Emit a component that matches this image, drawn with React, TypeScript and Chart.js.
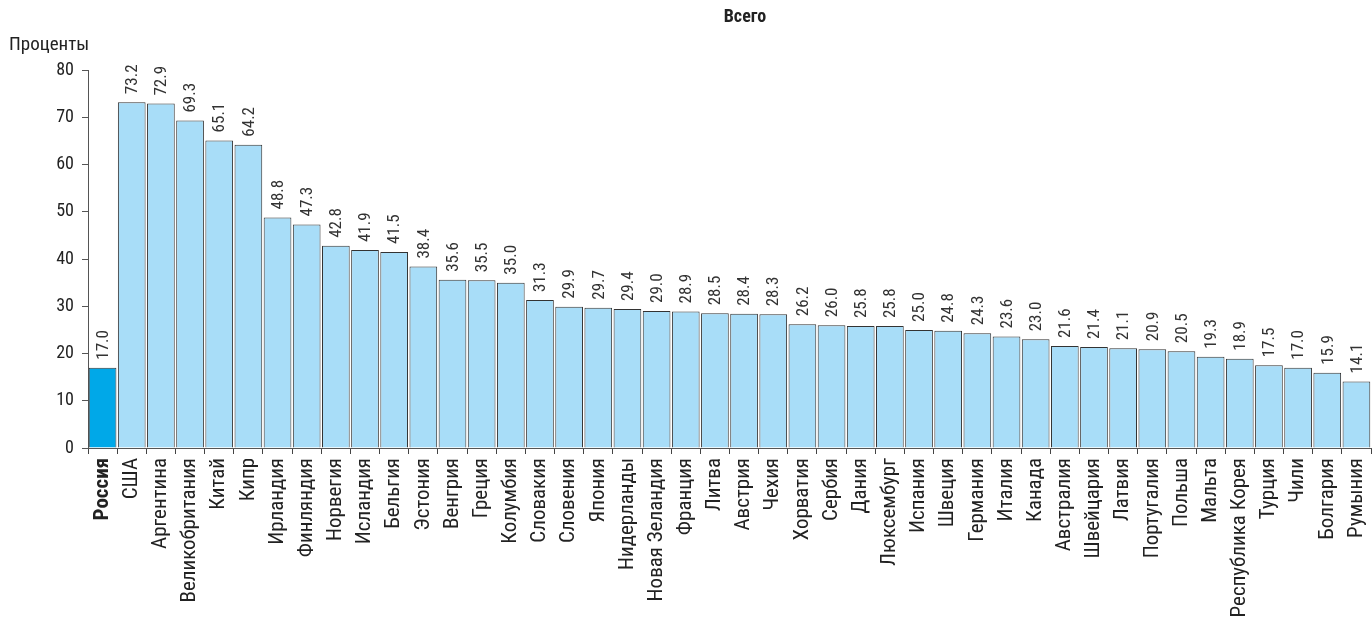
import React, { useEffect, useRef } from "react";
import { Chart, registerables } from "chart.js";

Chart.register(...registerables);

const countries = [
  "Россия", "США", "Аргентина", "Великобритания", "Китай", "Кипр", "Ирландия", "Финляндия",
  "Норвегия", "Исландия", "Бельгия", "Эстония", "Венгрия", "Греция", "Колумбия", "Словакия",
  "Словения", "Япония", "Нидерланды", "Новая Зеландия", "Франция", "Литва", "Австрия", "Чехия",
  "Хорватия", "Сербия", "Дания", "Люксембург", "Испания", "Швеция", "Германия", "Италия",
  "Канада", "Австралия", "Швейцария", "Латвия", "Португалия", "Польша", "Мальта",
  "Республика Корея", "Турция", "Чили", "Болгария", "Румыния",
];

const values = [
  17.0, 73.2, 72.9, 69.3, 65.1, 64.2, 48.8, 47.3,
  42.8, 41.9, 41.5, 38.4, 35.6, 35.5, 35.0, 31.3,
  29.9, 29.7, 29.4, 29.0, 28.9, 28.5, 28.4, 28.3,
  26.2, 26.0, 25.8, 25.8, 25.0, 24.8, 24.3, 23.6,
  23.0, 21.6, 21.4, 21.1, 20.9, 20.5, 19.3,
  18.9, 17.5, 17.0, 15.9, 14.1,
];

const yTicks = [0, 10, 20, 30, 40, 50, 60, 70, 80];
const titleText = "Всего";
const yAxisTitle = "Проценты";
const highlight = "Россия";

const FONT = "'Roboto Condensed', 'Liberation Sans Narrow', 'DejaVu Sans Condensed', Roboto, sans-serif";

export default function App() {
  const ref = useRef<HTMLCanvasElement | null>(null);

  useEffect(() => {
    document.body.style.margin = "0";
    const canvas = ref.current;
    if (!canvas) return;

    const labelsPlugin = {
      id: "customTexts",
      afterDatasetsDraw(chart: any) {
        const ctx = chart.ctx;
        const meta = chart.getDatasetMeta(0);
        ctx.save();
        ctx.fillStyle = "#333";
        ctx.font = `17px ${FONT}`;
        ctx.textAlign = "left";
        ctx.textBaseline = "middle";
        meta.data.forEach((el: any, i: number) => {
          ctx.save();
          ctx.translate(el.x + 1, el.y - 8);
          ctx.rotate(-Math.PI / 2);
          ctx.fillText(values[i].toFixed(1), 0, 0);
          ctx.restore();
        });
        ctx.restore();
      },
      afterDraw(chart: any) {
        const ctx = chart.ctx;
        ctx.save();
        ctx.fillStyle = "#222";
        ctx.font = `bold 18px ${FONT}`;
        ctx.textAlign = "center";
        ctx.textBaseline = "middle";
        ctx.fillText(titleText, 745, 17);
        ctx.font = `19px ${FONT}`;
        ctx.textAlign = "left";
        ctx.fillText(yAxisTitle, 9, 45);
        ctx.restore();
      },
    };

    const chart = new Chart(canvas, {
      type: "bar",
      data: {
        labels: countries,
        datasets: [
          {
            data: values,
            backgroundColor: countries.map((c) => (c === highlight ? "#00a8e8" : "#a8ddf8")),
            borderColor: "#333",
            borderWidth: 1,
            barPercentage: 0.95,
            categoryPercentage: 1,
          },
        ],
      },
      options: {
        animation: false,
        responsive: false,
        maintainAspectRatio: false,
        layout: { padding: { top: 70, left: 0, right: 1, bottom: 0 } },
        plugins: {
          legend: { display: false },
          title: { display: false },
          tooltip: { enabled: false },
        },
        scales: {
          x: {
            grid: {
              display: true,
              drawOnChartArea: false,
              tickLength: 6,
              color: "#444",
              offset: true,
            },
            border: { color: "#555", width: 1 },
            ticks: {
              autoSkip: false,
              minRotation: 90,
              maxRotation: 90,
              color: "#222",
              padding: 4,
              font: (c: any) => ({
                family: FONT,
                size: 21,
                weight: countries[c.index] === highlight ? "bold" : "normal",
              }),
            },
            afterFit: (scale: any) => {
              scale.height = 175;
              scale.paddingLeft = 0;
              scale.paddingRight = 0;
            },
          },
          y: {
            min: 0,
            max: 80,
            afterBuildTicks: (scale: any) => {
              scale.ticks = yTicks.map((v) => ({ value: v }));
            },
            grid: {
              display: true,
              drawOnChartArea: false,
              tickLength: 6,
              color: "#555",
            },
            border: { color: "#555", width: 1 },
            ticks: {
              color: "#222",
              padding: 8,
              font: { family: FONT, size: 18 },
            },
            afterFit: (scale: any) => {
              scale.width = 88;
              scale.paddingTop = 0;
              scale.paddingBottom = 0;
            },
          },
        },
      },
      plugins: [labelsPlugin],
    });

    return () => chart.destroy();
  }, []);

  return (
    <div style={{ position: "absolute", left: 0, top: 0, width: 1372, height: 623 }}>
      <canvas ref={ref} width={1372} height={623} style={{ width: 1372, height: 623 }} />
    </div>
  );
}
